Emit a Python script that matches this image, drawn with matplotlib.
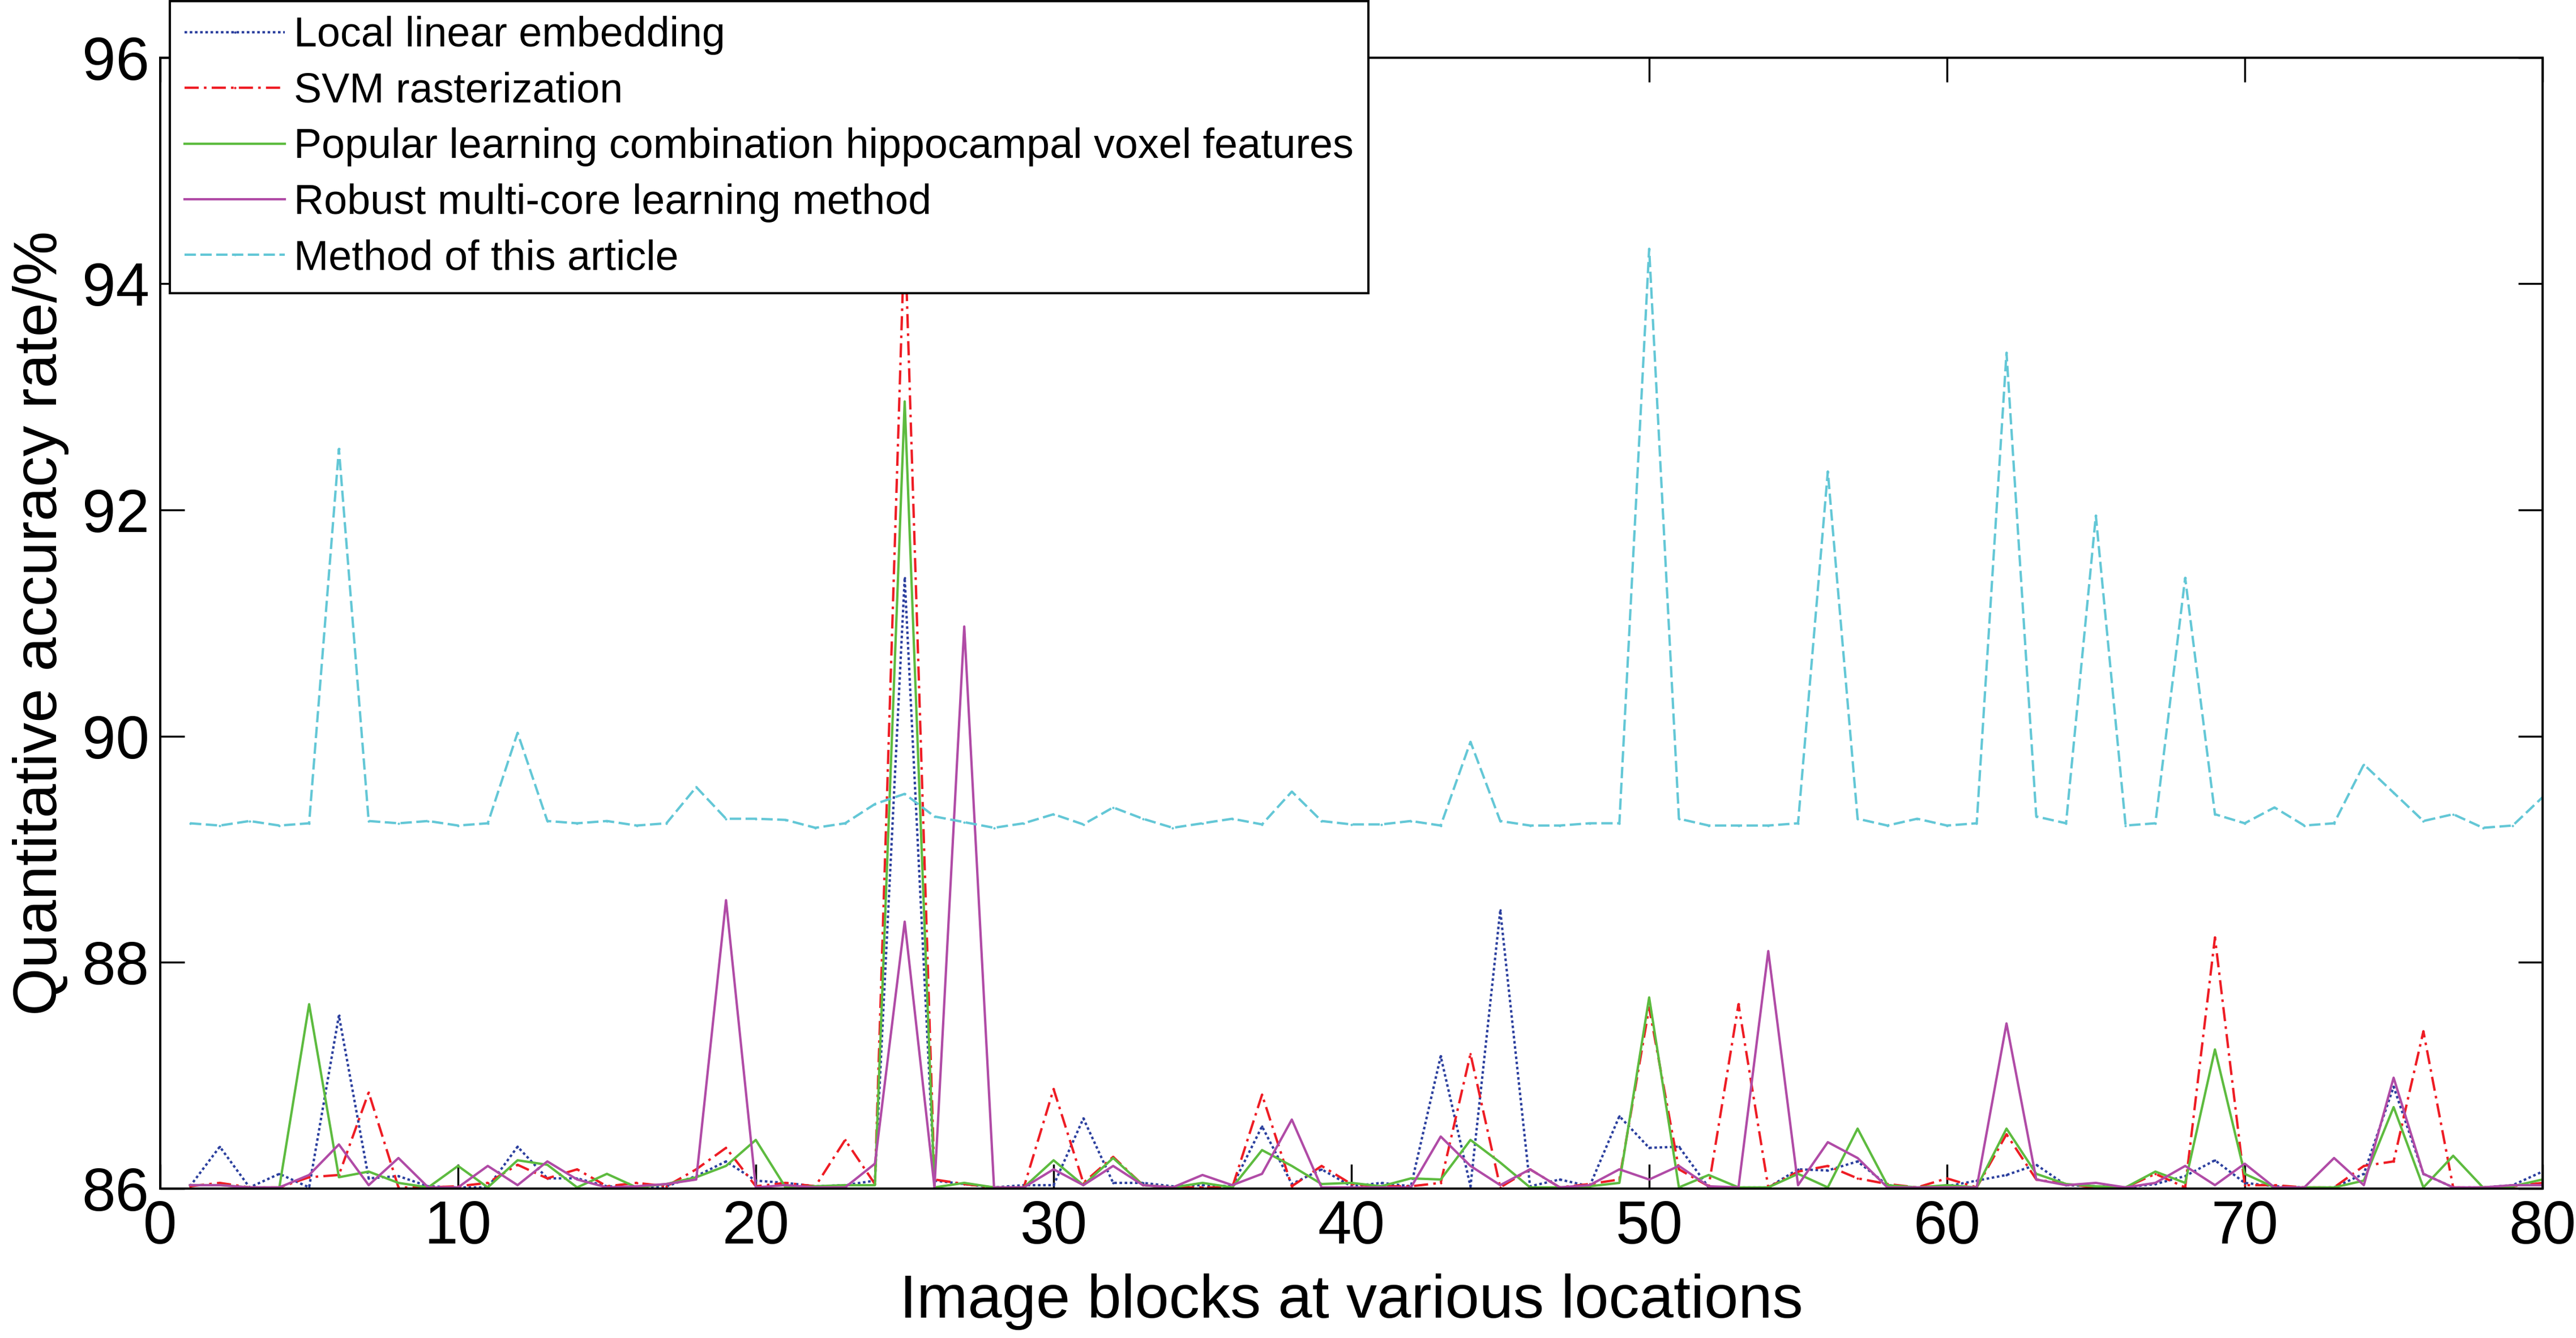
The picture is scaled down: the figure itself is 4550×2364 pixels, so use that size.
import numpy as np
import matplotlib
matplotlib.use("Agg")
import matplotlib.pyplot as plt

plt.rcParams['font.family'] = ['Liberation Sans', 'DejaVu Sans']

# image block index
blocks = np.arange(1, 81)

# accuracy values (%)
lle = [86.02, 86.37, 86.01, 86.13, 86.01, 87.53, 86.09, 86.11, 86.02, 86.01,
       86.01, 86.37, 86.09, 86.09, 86.02, 86.01, 86.02, 86.11, 86.24, 86.07,
       86.05, 86.02, 86.03, 86.07, 91.40, 86.07, 86.04, 86.01, 86.03, 86.03,
       86.62, 86.05, 86.05, 86.02, 86.03, 86.02, 86.55, 86.04, 86.17, 86.02,
       86.05, 86.02, 87.17, 86.02, 88.46, 86.02, 86.08, 86.02, 86.64, 86.36,
       86.37, 86.01, 86.01, 86.01, 86.17, 86.16, 86.24, 86.03, 86.01, 86.02,
       86.07, 86.12, 86.21, 86.03, 86.02, 86.01, 86.04, 86.11, 86.25, 86.05,
       86.02, 86.01, 86.01, 86.13, 86.90, 86.13, 86.01, 86.01, 86.03, 86.15]

svm = [86.02, 86.05, 86.01, 86.01, 86.10, 86.12, 86.85, 86.01, 86.01, 86.02,
       86.05, 86.21, 86.09, 86.17, 86.02, 86.05, 86.02, 86.17, 86.36, 86.02,
       86.05, 86.02, 86.43, 86.04, 94.50, 86.08, 86.04, 86.01, 86.01, 86.88,
       86.05, 86.28, 86.03, 86.01, 86.01, 86.01, 86.83, 86.02, 86.20, 86.04,
       86.02, 86.02, 86.05, 87.19, 86.01, 86.17, 86.01, 86.04, 86.08, 87.60,
       86.17, 86.02, 87.63, 86.01, 86.15, 86.20, 86.09, 86.04, 86.01, 86.09,
       86.01, 86.48, 86.08, 86.04, 86.01, 86.01, 86.13, 86.01, 88.22, 86.03,
       86.03, 86.01, 86.01, 86.20, 86.24, 87.39, 86.01, 86.01, 86.02, 86.05]

popular = [86.03, 86.03, 86.01, 86.01, 87.63, 86.10, 86.15, 86.05, 86.01, 86.20,
           86.01, 86.25, 86.21, 86.01, 86.13, 86.01, 86.04, 86.10, 86.20, 86.43,
           86.01, 86.02, 86.03, 86.03, 92.96, 86.01, 86.05, 86.01, 86.01, 86.25,
           86.03, 86.27, 86.03, 86.01, 86.05, 86.01, 86.34, 86.20, 86.04, 86.05,
           86.02, 86.09, 86.08, 86.43, 86.23, 86.01, 86.01, 86.02, 86.05, 87.69,
           86.01, 86.12, 86.01, 86.01, 86.13, 86.01, 86.53, 86.03, 86.01, 86.03,
           86.01, 86.53, 86.13, 86.04, 86.02, 86.01, 86.15, 86.05, 87.23, 86.13,
           86.01, 86.01, 86.01, 86.07, 86.72, 86.01, 86.29, 86.01, 86.02, 86.08]

robust = [86.03, 86.03, 86.01, 86.01, 86.12, 86.39, 86.03, 86.27, 86.01, 86.01,
          86.20, 86.03, 86.24, 86.08, 86.01, 86.02, 86.04, 86.08, 88.55, 86.01,
          86.03, 86.01, 86.01, 86.22, 88.36, 86.01, 90.97, 86.01, 86.01, 86.17,
          86.03, 86.20, 86.03, 86.01, 86.12, 86.03, 86.13, 86.61, 86.01, 86.01,
          86.01, 86.01, 86.46, 86.20, 86.03, 86.17, 86.01, 86.03, 86.17, 86.08,
          86.20, 86.02, 86.01, 88.10, 86.03, 86.41, 86.27, 86.01, 86.01, 86.01,
          86.01, 87.46, 86.08, 86.03, 86.05, 86.01, 86.05, 86.20, 86.03, 86.22,
          86.01, 86.01, 86.27, 86.03, 86.98, 86.13, 86.01, 86.01, 86.03, 86.03]

ours = [89.23, 89.21, 89.25, 89.21, 89.23, 92.54, 89.25, 89.23, 89.25, 89.21,
        89.23, 90.03, 89.25, 89.23, 89.25, 89.21, 89.23, 89.55, 89.27, 89.27,
        89.26, 89.19, 89.23, 89.40, 89.49, 89.29, 89.24, 89.19, 89.23, 89.31,
        89.22, 89.37, 89.27, 89.19, 89.23, 89.27, 89.22, 89.51, 89.25, 89.22,
        89.22, 89.25, 89.21, 89.95, 89.25, 89.21, 89.21, 89.23, 89.23, 94.31,
        89.27, 89.21, 89.21, 89.21, 89.23, 92.34, 89.27, 89.21, 89.27, 89.21,
        89.23, 93.39, 89.29, 89.23, 91.95, 89.21, 89.23, 91.40, 89.31, 89.23,
        89.37, 89.21, 89.23, 89.75, 89.50, 89.25, 89.31, 89.19, 89.21, 89.46]

labels = ['Local linear embedding',
          'SVM rasterization',
          'Popular learning combination hippocampal voxel features',
          'Robust multi-core learning method',
          'Method of this article']

fig = plt.figure(figsize=(45.5, 23.64), dpi=100)
ax = fig.add_axes([0.0622, 0.1117, 0.9248, 0.8452])

lw = 3.0
ax.plot(blocks, lle, color='#2B3F9E', linestyle=(0, (1.1, 1.1)), linewidth=lw,
        marker='.', markersize=4, label=labels[0])
ax.plot(blocks, svm, color='#EE1C24', linestyle=(0, (6, 2.2, 1.1, 2.2)), linewidth=lw,
        marker='.', markersize=4, label=labels[1])
ax.plot(blocks, popular, color='#5DBB3F', linestyle='-', linewidth=lw, label=labels[2])
ax.plot(blocks, robust, color='#B04BA6', linestyle='-', linewidth=lw, label=labels[3])
ax.plot(blocks, ours, color='#63C7D6', linestyle=(0, (4.8, 1.9)), linewidth=lw,
        marker='.', markersize=4, label=labels[4])

ax.set_xlim(0, 80)
ax.set_ylim(86, 96)
ax.set_xticks(np.arange(0, 81, 10))
ax.set_yticks(np.arange(86, 97, 2))

ax.tick_params(direction='in', length=31, width=2.5, labelsize=77,
               top=True, right=True, pad=14)
for s in ax.spines.values():
    s.set_linewidth(2.8)

ax.set_xlabel('Image blocks at various locations', fontsize=78, labelpad=22)
ax.set_ylabel('Quantitative accuracy rate/%', fontsize=78, labelpad=16)

leg = ax.legend(loc='upper left', bbox_to_anchor=(0.004, 1.05), fontsize=53,
                frameon=True, fancybox=False, framealpha=1, edgecolor='black',
                borderaxespad=0, handlelength=2.4, handletextpad=0.22,
                labelspacing=0.4, borderpad=0.36)
leg.get_frame().set_linewidth(2.8)
leg.set_zorder(10)

fig.savefig('out.png', dpi=100)
